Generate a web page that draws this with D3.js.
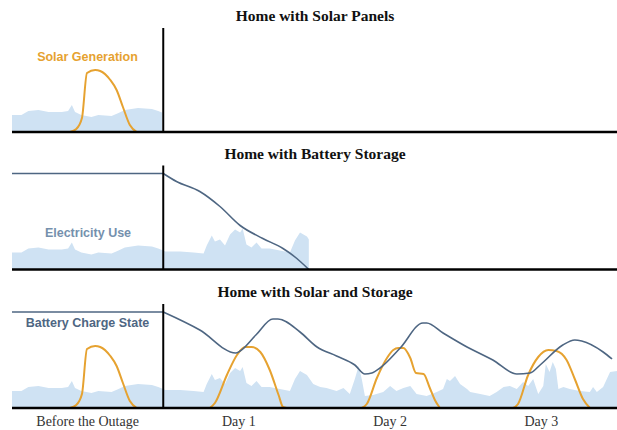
<!DOCTYPE html>
<html>
<head>
<meta charset="utf-8">
<script src="https://cdn.jsdelivr.net/npm/d3@7"></script>
<style>
  body { margin: 0; background: #fff; }
  svg { display: block; }
</style>
</head>
<body>
<div id="chart"></div>
<script>
// hours since start: 0-24 before the outage, then three days without grid power
const dayLabels = ['Before the Outage', 'Day 1', 'Day 2', 'Day 3'];
const dayCenters = [12, 36, 60, 84];
const outageHour = 24;

const titles = ['Home with Solar Panels', 'Home with Battery Storage', 'Home with Solar and Storage'];

// household electricity use [hour, level]
const usage = [
  [0, 17], [1.5, 17], [2.6, 21], [4.2, 22], [5.8, 20], [7.9, 20], [8.9, 21], [9.5, 27], [10, 20],
  [11, 17], [12.6, 15], [13.7, 17], [15.8, 16], [16.9, 19], [17.9, 22], [20, 24], [22.2, 23],
  [23.2, 21], [24, 19], [24.3, 18], [26.7, 18], [28.8, 17], [30.4, 16], [30.9, 24], [31.7, 34],
  [32.2, 28], [33.0, 30], [33.8, 24], [34.6, 35], [35.4, 40], [36.2, 37], [36.6, 41], [37.2, 25],
  [38.0, 22], [38.8, 27], [39.6, 21], [40.9, 21], [42.5, 19], [44.1, 17], [44.9, 29], [45.7, 37],
  [46.8, 33], [47.8, 24], [48.9, 21], [49.9, 20], [51.5, 17], [52.6, 20], [53.6, 14], [54.4, 29],
  [55.0, 42], [55.5, 29], [56.0, 12], [57.3, 13], [58.9, 16], [60.0, 22], [61.0, 17], [62.1, 20],
  [63.2, 22], [64.2, 14], [65.8, 12], [67.4, 16], [68.4, 19], [69.0, 29], [69.5, 27], [70.3, 32],
  [71.1, 24], [72.2, 19], [72.7, 16], [74.3, 14], [75.8, 12], [76.9, 16], [78.0, 21], [79.0, 22],
  [80.1, 19], [81.1, 26], [81.9, 22], [82.7, 29], [83.5, 14], [84.3, 22], [84.7, 44], [85.3, 36],
  [85.8, 46], [86.3, 39], [86.7, 19], [87.5, 21], [88.5, 19], [90.1, 17], [91.7, 16], [92.2, 21],
  [92.8, 16], [93.8, 21], [94.9, 36], [96, 37]
];

// solar generation per day [hour, level]
const solarPre = [[9.2, 0], [10.2, 3], [11.1, 14], [11.9, 59], [13.2, 62], [14.0, 61], [15.6, 52],
  [16.6, 42], [17.6, 25], [18.7, 7], [19.8, 0]];
const solarDay1 = [[31.4, 0], [32.2, 5], [34.1, 33], [35.7, 53], [37.0, 61], [38.0, 61], [39.4, 56],
  [40.9, 38], [42.3, 13], [43.0, 1], [43.6, 0]];
const solarDay2 = [[55.5, 0], [56.3, 4], [57.9, 30], [59.5, 50], [60.5, 58], [61.3, 60], [62.1, 60],
  [63.2, 50], [64.1, 35], [65.3, 34], [66.3, 20], [67.1, 8], [67.9, 0]];
const solarDay3 = [[79.5, 0], [80.3, 4], [81.9, 33], [83.5, 51], [85.1, 58], [86.4, 57], [88.0, 48],
  [89.3, 29], [90.6, 9], [91.7, 0]];

// battery charge state [hour, level]: full before the outage, then draining
const batteryFull = [[0, 96], [24, 96]];
const batteryOnly = [[24, 96], [26.1, 88], [29.8, 78], [33.0, 63], [36.2, 44], [39.8, 31],
  [43.0, 21], [45.2, 11], [47.1, 0]];
const batterySolar = [[24, 96], [29.8, 78], [35.5, 55], [36.2, 57], [38.7, 73], [41.4, 89],
  [42.2, 89], [45.7, 76], [48.4, 61], [51.5, 52], [54.4, 43], [56.0, 34], [57.1, 35], [58.4, 40],
  [61.6, 60], [65.2, 85], [65.8, 85], [68.4, 75], [72.2, 61], [76.3, 48], [80.1, 34], [82.2, 35],
  [83.8, 43], [87.4, 63], [89.3, 68], [90.4, 67], [93.8, 56], [95.2, 49]];

(function () {
  let width = 617,
    height = 430;

  let svg = d3.select('#chart').append('svg')
    .attr('width', width)
    .attr('height', height);

  let x = d3.scaleLinear()
    .domain([0, 96])
    .range([12, 617]);

  let solarColor = '#e6a230',
    batteryColor = '#4e6682',
    useColor = '#cfe2f3';

  let panels = [
    { base: 132, usageEnd: 23.8, solar: [solarPre], battery: [] },
    { base: 269.5, usageEnd: 47.1, solar: [], battery: [batteryFull, batteryOnly] },
    { base: 408, usageEnd: 96, solar: [solarPre, solarDay1, solarDay2, solarDay3], battery: [batteryFull, batterySolar] }
  ];

  panels.forEach((p, i) => {
    let y = d3.scaleLinear()
      .domain([0, 100])
      .range([p.base, p.base - 100]);

    let g = svg.append('g');

    g.append('clipPath')
      .attr('id', 'clip' + i)
      .append('rect')
      .attr('x', x(0))
      .attr('y', 0)
      .attr('width', x(p.usageEnd) - x(0))
      .attr('height', height);

    let area = d3.area()
      .x((d) => x(d[0]))
      .y0(y(0))
      .y1((d) => y(d[1]));

    g.append('path')
      .datum(usage)
      .attr('clip-path', 'url(#clip' + i + ')')
      .attr('fill', useColor)
      .attr('d', area);

    let line = d3.line()
      .curve(d3.curveMonotoneX)
      .x((d) => x(d[0]))
      .y((d) => y(d[1]));

    g.selectAll('path.solar')
      .data(p.solar).enter()
      .append('path')
      .attr('class', 'solar')
      .attr('fill', 'none')
      .attr('stroke', solarColor)
      .attr('stroke-width', 2)
      .attr('stroke-linejoin', 'round')
      .attr('d', line);

    g.selectAll('path.battery')
      .data(p.battery).enter()
      .append('path')
      .attr('class', 'battery')
      .attr('fill', 'none')
      .attr('stroke', batteryColor)
      .attr('stroke-width', 1.6)
      .attr('d', line);

    // baseline and outage marker
    g.append('line')
      .attr('x1', x(0))
      .attr('x2', width)
      .attr('y1', y(0))
      .attr('y2', y(0))
      .attr('stroke', '#000')
      .attr('stroke-width', 2.5);

    g.append('line')
      .attr('x1', x(outageHour))
      .attr('x2', x(outageHour))
      .attr('y1', y(0))
      .attr('y2', y(0) - 104)
      .attr('stroke', '#000')
      .attr('stroke-width', 2);

    g.append('text')
      .attr('x', 315)
      .attr('y', p.base - 111)
      .attr('text-anchor', 'middle')
      .style('font-family', '"Liberation Serif", "Times New Roman", serif')
      .style('font-weight', 'bold')
      .style('font-size', '15.5px')
      .attr('fill', '#111')
      .text(titles[i]);
  });

  let label = (text, cx, cy, color) => {
    svg.append('text')
      .attr('x', cx)
      .attr('y', cy)
      .attr('text-anchor', 'middle')
      .style('font-family', '"Liberation Sans", Arial, sans-serif')
      .style('font-weight', 'bold')
      .style('font-size', '12.5px')
      .attr('fill', color)
      .text(text);
  };

  label('Solar Generation', 87.5, 61, solarColor);
  label('Electricity Use', 88, 237, '#7590ad');
  label('Battery Charge State', 87.5, 327, batteryColor);

  svg.append('g').selectAll('text.day')
    .data(dayLabels).enter()
    .append('text')
    .attr('class', 'day')
    .attr('x', (d, i) => x(dayCenters[i]))
    .attr('y', 426)
    .attr('text-anchor', 'middle')
    .style('font-family', '"Liberation Serif", "Times New Roman", serif')
    .style('font-size', '14px')
    .attr('fill', '#333')
    .text((d) => d);
})();
</script>
</body>
</html>
